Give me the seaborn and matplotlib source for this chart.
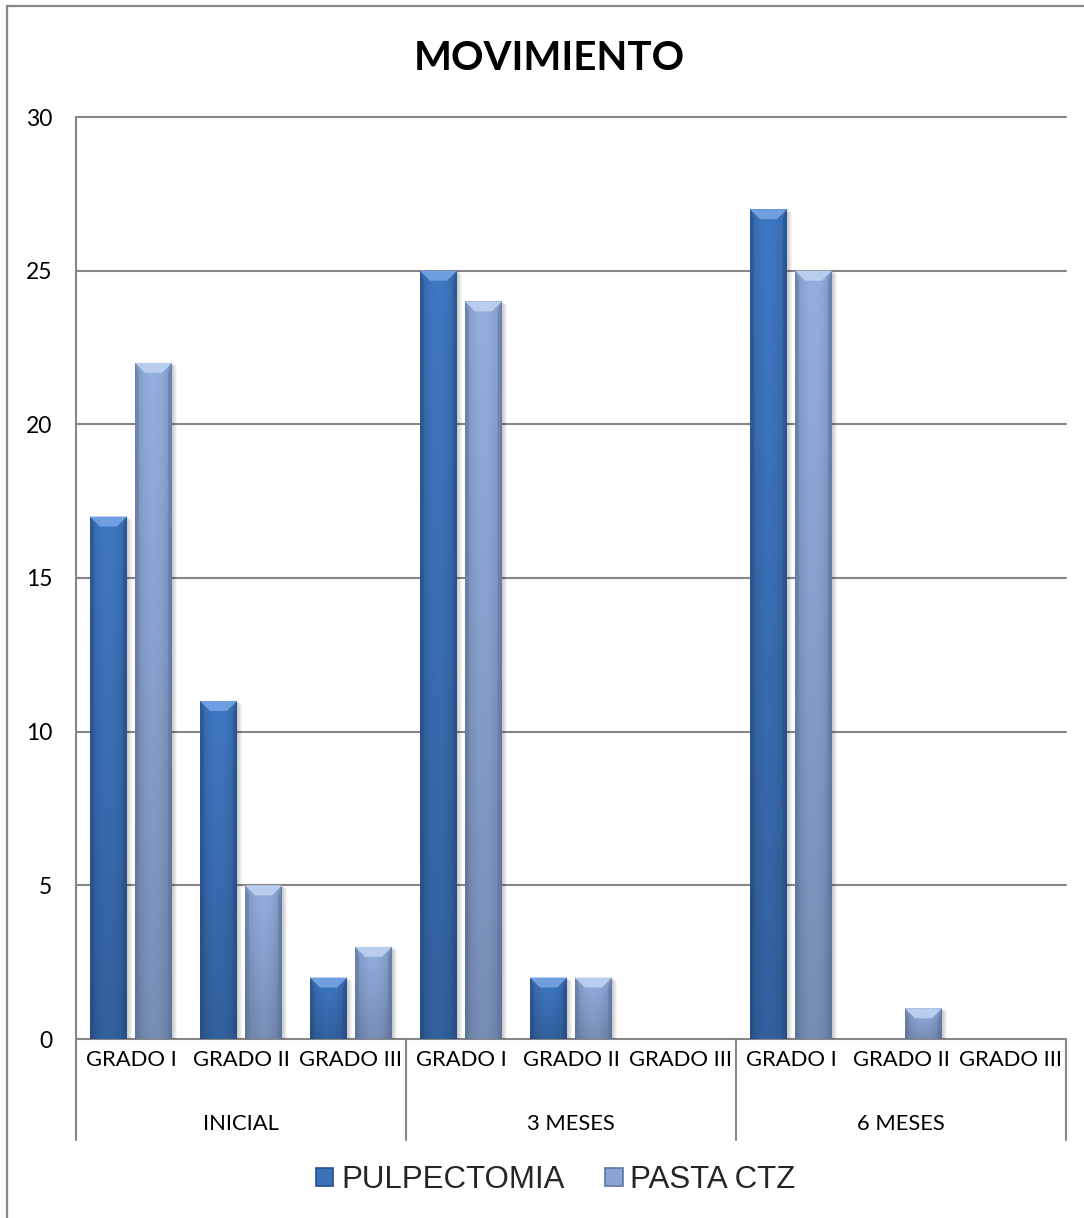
import numpy as np
import pandas as pd
import matplotlib
matplotlib.use("Agg")
import matplotlib.pyplot as plt
import matplotlib.transforms as mtransforms
from matplotlib.patches import Polygon, Rectangle, Patch
from matplotlib.colors import to_rgb
import seaborn as sns

# --- data -------------------------------------------------------------
etapas = ["INICIAL", "3 MESES", "6 MESES"]
grados = ["GRADO I", "GRADO II", "GRADO III"]
series = ["PULPECTOMIA", "PASTA CTZ"]
pulpectomia = [17, 11, 2, 25, 2, 0, 27, 0, 0]
pasta_ctz = [22, 5, 3, 24, 2, 0, 25, 1, 0]
yticks = [0, 5, 10, 15, 20, 25, 30]

rows = []
for i, (p, c) in enumerate(zip(pulpectomia, pasta_ctz)):
    etapa = etapas[i // 3]
    grado = grados[i % 3]
    clave = f"{etapa}|{grado}"
    rows.append((clave, etapa, grado, series[0], p))
    rows.append((clave, etapa, grado, series[1], c))
df = pd.DataFrame(rows, columns=["clave", "etapa", "grado", "grupo", "valor"])
orden = list(dict.fromkeys(df["clave"]))

# --- style ------------------------------------------------------------
sns.set_theme(style="white")
plt.rcParams["font.family"] = ["Lato", "DejaVu Sans"]
GRIS = "#868686"
colores = {"PULPECTOMIA": "#3b71b8", "PASTA CTZ": "#8ba5d3"}
bisel = {"PULPECTOMIA": "#6f9fe0", "PASTA CTZ": "#b9cdee"}
borde = {"PULPECTOMIA": "#264f8a", "PASTA CTZ": "#5f77a6"}
FS = 15.8

W, H = 1084, 1218
fig = plt.figure(figsize=(W / 100, H / 100), dpi=100, facecolor="white")
ax = fig.add_axes([76 / W, 1 - 1039 / H, 990 / W, 922 / H])

sns.barplot(data=df, x="clave", y="valor", hue="grupo", order=orden,
            hue_order=series, palette=colores, width=0.818, gap=0.178,
            saturation=1, errorbar=None, legend=False, linewidth=0, ax=ax)

ax.set_xlim(-0.5, len(orden) - 0.5)
ax.set_ylim(0, 30)

# horizontal gridlines
for y in yticks:
    ax.axhline(y, color=GRIS, lw=1.5, zorder=0, clip_on=False)

# --- bevelled bar look ------------------------------------------------
fig.canvas.draw()
px_x = ax.bbox.width / (len(orden))      # pixels per category unit
px_y = ax.bbox.height / 30.0             # pixels per value unit


def gradiente(rgb, nx=60, ny=120):
    u = np.linspace(0, 1, nx)
    v = np.linspace(0, 1, ny)[:, None]
    hor = 0.80 + 0.22 * np.sin(np.pi * u) ** 0.6
    ver = 1.04 - 0.20 * v
    img = np.clip(np.array(rgb)[None, None, :] * (hor[None, :] * ver)[:, :, None], 0, 1)
    return img


for cont, nombre in zip(ax.containers, series):
    rgb = to_rgb(colores[nombre])
    for bar in cont:
        h = bar.get_height()
        if h <= 0:
            bar.set_visible(False)
            continue
        x0 = bar.get_x()
        w = bar.get_width()
        x1 = x0 + w
        # soft shadow
        for k in range(1, 6):
            ax.add_patch(Rectangle((x0 + k * 1.0 / px_x, 0), w, h - k * 0.6 / px_y,
                                   facecolor="black", alpha=0.045, lw=0, zorder=1.5))
        bar.set_zorder(2)
        im = ax.imshow(gradiente(rgb), extent=(x0, x1, 0, h), origin="upper",
                       aspect="auto", zorder=2.1, interpolation="bilinear")
        im.set_clip_path(bar)
        bx = 10 / px_x
        by = 10 / px_y
        sx = 4 / px_x
        # top bevel
        ax.add_patch(Polygon([(x0, h), (x1, h), (x1 - bx, h - by), (x0 + bx, h - by)],
                             closed=True, facecolor=bisel[nombre], lw=0, zorder=2.3))
        # darker side edges
        ax.add_patch(Polygon([(x0, h), (x0 + sx, h - by), (x0 + sx, 0), (x0, 0)],
                             closed=True, facecolor=borde[nombre], alpha=0.45, lw=0, zorder=2.2))
        ax.add_patch(Polygon([(x1, h), (x1 - sx, h - by), (x1 - sx, 0), (x1, 0)],
                             closed=True, facecolor=borde[nombre], alpha=0.55, lw=0, zorder=2.2))

ax.set_xlim(-0.5, len(orden) - 0.5)
ax.set_ylim(0, 30)

# --- axes -------------------------------------------------------------
for lado in ["top", "right", "bottom"]:
    ax.spines[lado].set_visible(False)
ax.spines["left"].set_color(GRIS)
ax.spines["left"].set_linewidth(1.5)

ax.set_yticks(yticks)
ax.set_yticklabels([str(t) for t in yticks], fontsize=FS + 0.7, color="black")
ax.tick_params(axis="y", length=0, pad=17)
ax.set_xticks(range(len(orden)))
ax.set_xticklabels(grados * len(etapas), fontsize=FS, color="black")
ax.tick_params(axis="x", length=0, pad=8)
ax.set_xlabel("")
ax.set_ylabel("")

trans = mtransforms.blended_transform_factory(ax.transData, ax.transAxes)
fondo = -(1140 - 1039) / 922
for xs in [-0.5, 2.5, 5.5, 8.5]:
    ax.plot([xs, xs], [0, fondo], transform=trans, color=GRIS, lw=1.5, clip_on=False)
for j, etapa in enumerate(etapas):
    ax.text(3 * j + 1, -(1124 - 1039) / 922, etapa, transform=trans,
            ha="center", va="center", fontsize=FS, color="black")

# title
fig.text(549 / W, 1 - 58 / H, "MOVIMIENTO", ha="center", va="center",
         fontsize=29, fontweight="bold", color="black")

# legend
manijas = [Patch(facecolor=colores[s], edgecolor=borde[s], linewidth=1.2) for s in series]
fig.legend(manijas, series, loc="center", bbox_to_anchor=(556 / W, 1 - 1180 / H),
           ncol=2, frameon=False, handlelength=0.55, handleheight=0.55,
           handletextpad=0.25, columnspacing=1.3,
           prop={"family": "Liberation Sans", "size": 22.5})

# chart border
fig.patches.append(Rectangle((7 / W, -0.05), 1.2, 1.05 - 6 / H, transform=fig.transFigure,
                             fill=False, edgecolor="#888888", linewidth=1.6))

fig.savefig("out.png", dpi=100, facecolor="white")
